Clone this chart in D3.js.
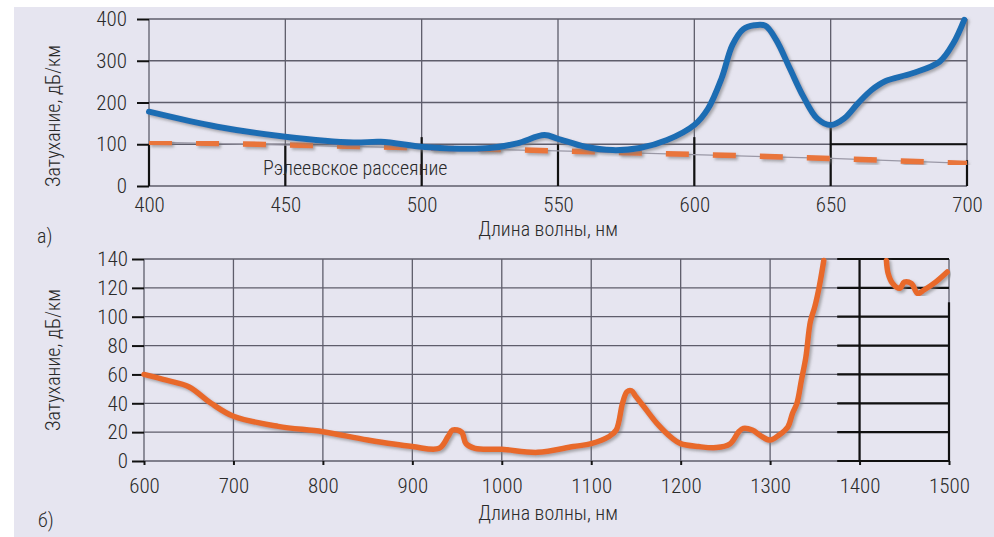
<!DOCTYPE html>
<html>
<head>
<meta charset="utf-8">
<script src="https://cdn.jsdelivr.net/npm/d3@7"></script>
<style>
  body { margin: 0; background: #fff; }
  svg { display: block; }
  text { font-family: "Liberation Sans Narrow", "Roboto Condensed", "DejaVu Sans Condensed", sans-serif; font-weight: 300; fill: #2a2a2a; }
  .tick text { font-size: 21px; }
</style>
</head>
<body>
<svg id="chart" width="994" height="537"></svg>
<script>
// Верхний график (а): затухание в видимом диапазоне
var topX = [400, 450, 500, 550, 600, 650, 700];
var topY = [0, 100, 200, 300, 400];
var blueWave = [400, 425, 450, 475, 485, 500, 510, 525, 535, 545, 550, 560, 570, 580, 590, 600, 605, 610, 614, 618, 622, 626, 630, 635, 640, 645, 650, 655, 660, 665, 670, 680, 690, 695, 699];
var blueLoss = [178, 142, 118, 104, 106, 94, 90, 91, 102, 122, 113, 94, 86, 91, 110, 146, 185, 258, 338, 376, 385, 384, 350, 282, 214, 162, 146, 162, 198, 230, 251, 270, 298, 342, 398];
// Рэлеевское рассеяние
var rayWave = [400, 550, 650, 700];
var rayLoss = [105, 84, 66, 54];

// Нижний график (б): затухание в ближнем ИК
var botX = [600, 700, 800, 900, 1000, 1100, 1200, 1300, 1400, 1500];
var botY = [0, 20, 40, 60, 80, 100, 120, 140];
var orangeWave = [600, 625, 650, 675, 700, 750, 800, 850, 900, 930, 940, 945, 955, 960, 970, 1000, 1040, 1080, 1100, 1120, 1128, 1135, 1140, 1145, 1150, 1160, 1175, 1190, 1200, 1220, 1240, 1255, 1265, 1270, 1280, 1290, 1300, 1310, 1320, 1325, 1330, 1335, 1340, 1345, 1350, 1355, 1360];
var orangeLoss = [60, 56, 51.5, 40, 31, 24, 20.3, 14.5, 10, 8.8, 17, 21.5, 20, 12, 8.8, 8.1, 6, 10, 12, 17, 21.5, 40, 48, 48.7, 44.6, 36.7, 25, 16, 12, 10, 9.3, 11.8, 20.3, 22.6, 21.5, 17.3, 14.5, 18, 23.8, 33, 40, 56, 72, 96.5, 107, 121, 139];
var orangeWave2 = [1430, 1432, 1437, 1445, 1450, 1458, 1465, 1472, 1485, 1498];
var orangeLoss2 = [139, 130, 123, 119.7, 124, 123, 116, 118.5, 124, 131];

// Тёмные участки сетки (как на оригинале): [x1, y1, x2, y2] в единицах данных
var topDark = [[400, 0, 400, 100], [450, 0, 450, 100], [500, 0, 500, 117], [550, 0, 550, 100], [600, 0, 600, 117], [650, 0, 650, 140], [700, 0, 700, 62], [650, 100, 700, 100]];
var botDark = [[1375, 0, 1500, 0], [1375, 20, 1500, 20], [1375, 40, 1500, 40], [1375, 60, 1500, 60], [1375, 80, 1500, 80], [1375, 100, 1500, 100], [1375, 120, 1500, 120], [1375, 140, 1500, 140], [1400, 0, 1400, 140], [1500, 0, 1500, 110]];

var svg = d3.select("#chart");

// Тень под кривыми
var defs = svg.append("defs");
var f = defs.append("filter").attr("id", "shadow").attr("x", "-5%").attr("y", "-5%").attr("width", "110%").attr("height", "110%");
f.append("feDropShadow").attr("dx", 2).attr("dy", 2).attr("stdDeviation", 1.5)
  .attr("flood-color", "#777").attr("flood-opacity", 0.6);

svg.append("rect").attr("x", 14).attr("y", 7).attr("width", 980).attr("height", 530).attr("fill", "#e6e5f0");

function zip(a, b) { return a.map(function (v, i) { return [v, b[i]]; }); }

function drawPanel(o) {
  var x = d3.scaleLinear().domain(o.xDomain).range(o.xRange);
  var y = d3.scaleLinear().domain(o.yDomain).range(o.yRange);
  var g = svg.append("g");

  // сетка
  g.append("g").selectAll("line").data(o.yTicks).join("line")
    .attr("x1", x(o.xDomain[0])).attr("x2", x(o.xDomain[1]))
    .attr("y1", d => y(d)).attr("y2", d => y(d))
    .attr("stroke", "#5e5d6b").attr("stroke-width", 1.3);
  g.append("g").selectAll("line").data(o.xTicks).join("line")
    .attr("x1", d => x(d)).attr("x2", d => x(d))
    .attr("y1", y(o.yDomain[0])).attr("y2", y(o.yDomain[1]))
    .attr("stroke", "#5e5d6b").attr("stroke-width", 1.3);
  g.append("g").selectAll("line").data(o.dark).join("line")
    .attr("x1", d => x(d[0])).attr("y1", d => y(d[1]))
    .attr("x2", d => x(d[2])).attr("y2", d => y(d[3]))
    .attr("stroke", "#111").attr("stroke-width", 2.2);

  // оси
  var ax = g.append("g").attr("transform", "translate(0," + y(o.yDomain[0]) + ")")
    .call(d3.axisBottom(x).tickValues(o.xTicks).tickFormat(d3.format("d")).tickSize(o.xTickSize).tickPadding(o.xPad));
  var ay = g.append("g").attr("transform", "translate(" + x(o.xDomain[0]) + ",0)")
    .call(d3.axisLeft(y).tickValues(o.yTicks).tickFormat(d3.format("d")).tickSize(12).tickPadding(o.yPad));
  [ax, ay].forEach(function (a) {
    a.select(".domain").remove();
    a.selectAll(".tick line").attr("stroke", "#111").attr("stroke-width", 2);
    a.selectAll(".tick text").attr("fill", "#2a2a2a");
  });

  // подписи
  g.append("text").attr("transform", "translate(" + o.yTitle[0] + "," + o.yTitle[1] + ") rotate(-90)")
    .attr("text-anchor", "middle").attr("dy", "0.35em").style("font-size", "20px").text("Затухание, дБ/км");
  g.append("text").attr("x", o.xTitle[0]).attr("y", o.xTitle[1]).attr("text-anchor", "middle")
    .attr("dy", "0.35em").style("font-size", "20px").text("Длина волны, нм");
  g.append("text").attr("x", o.letter[0]).attr("y", o.letter[1]).attr("dy", "0.35em")
    .style("font-size", "20px").text(o.letterText);

  return {x: x, y: y, g: g};
}

var line = function (x, y) {
  return d3.line().x(d => x(d[0])).y(d => y(d[1])).curve(d3.curveCatmullRom.alpha(0.5));
};

// --- а) ---
var pa = drawPanel({
  xDomain: [400, 700], xRange: [149, 967], yDomain: [0, 400], yRange: [186, 19],
  xTicks: topX, yTicks: topY, dark: topDark, xTickSize: 0, xPad: 11, yPad: 10,
  yTitle: [53, 116], xTitle: [548, 229], letter: [37, 236], letterText: "а)"
});
pa.g.append("path").datum(zip(rayWave, rayLoss))
  .attr("d", d3.line().x(d => pa.x(d[0])).y(d => pa.y(d[1])).curve(d3.curveMonotoneX))
  .attr("fill", "none").attr("stroke", "#9a98a6").attr("stroke-width", 1.2);
pa.g.append("path").datum(zip(rayWave, rayLoss))
  .attr("d", d3.line().x(d => pa.x(d[0])).y(d => pa.y(d[1])).curve(d3.curveMonotoneX))
  .attr("fill", "none").attr("stroke", "#e9743a").attr("stroke-width", 5.5)
  .attr("stroke-dasharray", "23 24").attr("filter", "url(#shadow)");
pa.g.append("path").datum(zip(blueWave, blueLoss))
  .attr("d", line(pa.x, pa.y))
  .attr("fill", "none").attr("stroke", "#1f6db3").attr("stroke-width", 6)
  .attr("stroke-linecap", "round").attr("filter", "url(#shadow)");
pa.g.append("text").attr("x", 263).attr("y", 168).attr("dy", "0.35em")
  .style("font-size", "20px").text("Рэлеевское рассеяние");

// --- б) ---
var pb = drawPanel({
  xDomain: [600, 1500], xRange: [144, 949], yDomain: [0, 140], yRange: [461, 259],
  xTicks: botX, yTicks: botY, dark: botDark, xTickSize: 4, xPad: 13, yPad: 4,
  yTitle: [53, 360], xTitle: [548, 513], letter: [38, 520], letterText: "б)"
});
[zip(orangeWave, orangeLoss), zip(orangeWave2, orangeLoss2)].forEach(function (s) {
  pb.g.append("path").datum(s)
    .attr("d", line(pb.x, pb.y))
    .attr("fill", "none").attr("stroke", "#e8692c").attr("stroke-width", 5.5)
    .attr("stroke-linecap", "round").attr("stroke-linejoin", "round").attr("filter", "url(#shadow)");
});
</script>
</body>
</html>
